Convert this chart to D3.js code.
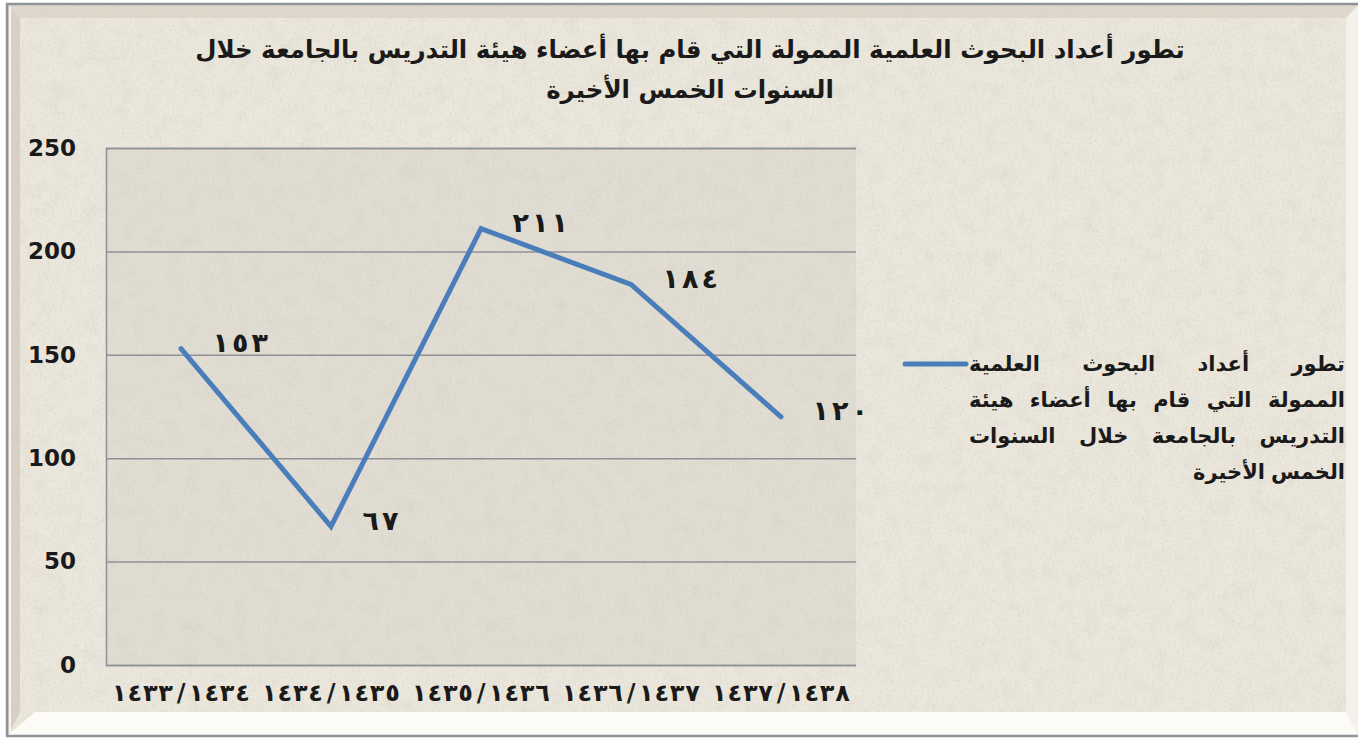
<!DOCTYPE html>
<html lang="ar">
<head>
<meta charset="utf-8">
<script src="https://cdn.jsdelivr.net/npm/d3@7/dist/d3.min.js"></script>
<style>
  html, body { margin: 0; padding: 0; background: #ffffff; }
  svg { display: block; }
  text { font-family: "DejaVu Sans", sans-serif; font-weight: bold; fill: #1a1a1a; }
</style>
</head>
<body>
<svg id="chart" width="1358" height="738"></svg>
<script>
// Research output by academic year (Hijri)
const years = ["١٤٣٣/١٤٣٤", "١٤٣٤/١٤٣٥", "١٤٣٥/١٤٣٦", "١٤٣٦/١٤٣٧", "١٤٣٧/١٤٣٨"];
const papers = [153, 67, 211, 184, 120];
const paperLabels = ["١٥٣", "٦٧", "٢١١", "١٨٤", "١٢٠"];
const yTicks = [0, 50, 100, 150, 200, 250];
const titleLines = [
  "تطور أعداد البحوث العلمية الممولة التي قام بها أعضاء هيئة التدريس بالجامعة خلال",
  "السنوات الخمس الأخيرة"
];
const legendLines = [
  "تطور أعداد البحوث العلمية",
  "الممولة التي قام بها أعضاء هيئة",
  "التدريس بالجامعة خلال السنوات",
  "الخمس الأخيرة"
];

const svg = d3.select("#chart");
const W = 1358, H = 738;

// paper-like texture: soft blotches plus fine grain
const defs = svg.append("defs");
function paperFilter(id, freq, seed, alphaScale, alphaOffset) {
  const f = defs.append("filter").attr("id", id).attr("x", 0).attr("y", 0).attr("width", 1).attr("height", 1);
  f.append("feTurbulence").attr("type", "fractalNoise").attr("baseFrequency", freq).attr("numOctaves", 3).attr("seed", seed).attr("result", "n");
  f.append("feColorMatrix").attr("in", "n").attr("type", "matrix")
    .attr("values", `0 0 0 0 0.6  0 0 0 0 0.57  0 0 0 0 0.5  0 0 0 ${alphaScale} ${alphaOffset}`).attr("result", "spots");
  f.append("feComposite").attr("in", "spots").attr("in2", "SourceGraphic").attr("operator", "in");
}
paperFilter("blotch", 0.06, 3, -2.4, 1.3);
paperFilter("grain", 0.4, 9, -2.6, 1.4);

function texturedRect(x0, y0, w, h, fill) {
  svg.append("rect").attr("x", x0).attr("y", y0).attr("width", w).attr("height", h).attr("fill", fill);
  svg.append("rect").attr("x", x0).attr("y", y0).attr("width", w).attr("height", h).attr("fill", fill)
    .attr("filter", "url(#blotch)").attr("opacity", 0.18);
  svg.append("rect").attr("x", x0).attr("y", y0).attr("width", w).attr("height", h).attr("fill", fill)
    .attr("filter", "url(#grain)").attr("opacity", 0.3);
}

// outer frame
texturedRect(7, 3, W - 7, 733, "#ece7dc");

// bevelled edges
svg.append("polygon").attr("points", "8,5 1358,5 1346,18 20,18").attr("fill", "#d9d2c4").attr("opacity", 0.7);
svg.append("polygon").attr("points", "8,5 20,18 20,712 8,735").attr("fill", "#d2cbbd").attr("opacity", 0.8);
svg.append("line").attr("x1", 10).attr("x2", 10).attr("y1", 6).attr("y2", 733).attr("stroke", "#f6f3ec").attr("stroke-width", 2);
svg.append("polygon").attr("points", "1358,5 1346,18 1346,712 1358,735").attr("fill", "#f4f1ea");
svg.append("polygon").attr("points", "8,735 35,712 1346,712 1358,735").attr("fill", "#fcfbf8");
svg.append("line").attr("x1", 6).attr("x2", W).attr("y1", 4).attr("y2", 4).attr("stroke", "#8f9298").attr("stroke-width", 2.5);
svg.append("line").attr("x1", 7).attr("x2", 7).attr("y1", 3).attr("y2", 736).attr("stroke", "#8f9298").attr("stroke-width", 2.5);
svg.append("line").attr("x1", 6).attr("x2", W).attr("y1", 736).attr("y2", 736).attr("stroke", "#8f9298").attr("stroke-width", 2.5);

// plot area
const plot = { left: 106, right: 856, top: 148, bottom: 665 };
const x = d3.scaleBand().domain(years).range([plot.left, plot.right]);
const y = d3.scaleLinear().domain([0, 250]).range([plot.bottom, plot.top]);

texturedRect(plot.left, plot.top, plot.right - plot.left, plot.bottom - plot.top, "#e2ddd3");

// gridlines and value axis
const yAxis = d3.axisLeft(y).tickValues(yTicks).tickSize(-(plot.right - plot.left)).tickFormat(d => d);
const gy = svg.append("g").attr("transform", `translate(${plot.left},0)`).call(yAxis);
gy.select(".domain").attr("stroke", "#8c9097").attr("stroke-width", 1.5);
gy.selectAll(".tick line").attr("stroke", "#8c9097").attr("stroke-width", 1.5);
gy.selectAll(".tick text").attr("x", -30).attr("font-size", 23).attr("font-family", "DejaVu Sans")
  .attr("font-weight", "bold").attr("fill", "#1a1a1a");

// writes a string one glyph at a time on an even pitch (wide digit spacing)
function spaced(g, str, x0, yy, step, size, anchor) {
  const chars = Array.from(str);
  const n = chars.length;
  const start = anchor === "middle" ? x0 - (n - 1) * step / 2 : x0 + step / 2;
  const t = g.append("g").attr("class", "spaced");
  chars.forEach((c, k) => {
    t.append("text").attr("x", start + k * step).attr("y", yy)
      .attr("text-anchor", "middle").attr("dominant-baseline", "middle")
      .attr("font-size", size).attr("direction", "ltr").text(c);
  });
  return t;
}

// category axis
const xAxis = d3.axisBottom(x).tickSize(0).tickFormat("");
const gx = svg.append("g").attr("transform", `translate(0,${plot.bottom})`).call(xAxis);
gx.select(".domain").remove();
gx.selectAll(".tick").each(function (d) {
  spaced(d3.select(this), d, 0, 29, 15.4, 24, "middle");
});

// series line
const cx = d => x(d) + x.bandwidth() / 2;
const line = d3.line().x((d, i) => cx(years[i])).y(d => y(d));
svg.append("path").datum(papers).attr("d", line)
  .attr("fill", "none").attr("stroke", "#4a7ebb").attr("stroke-width", 5)
  .attr("stroke-linejoin", "miter").attr("stroke-linecap", "round");

// value labels
const labels = svg.append("g");
papers.forEach((d, i) => {
  spaced(labels, paperLabels[i], cx(years[i]) + 30, y(d) - 4, 19.5, 27, "start");
});

// title
const title = svg.append("g");
titleLines.forEach((t, i) => {
  title.append("text").attr("x", 690).attr("y", 58 + i * 40).attr("text-anchor", "middle")
    .attr("direction", "rtl").attr("font-size", 24).text(t);
});
const t0 = title.select("text").node();
const scaleT = 990 / t0.getComputedTextLength();
title.selectAll("text").attr("font-size", 24 * scaleT);

// legend
svg.append("line").attr("x1", 905).attr("x2", 966).attr("y1", 364).attr("y2", 364)
  .attr("stroke", "#4a7ebb").attr("stroke-width", 5).attr("stroke-linecap", "round");
const legRight = 1345, legLeft = 969;
legendLines.forEach((ln, i) => {
  const yy = 371 + i * 36;
  const words = ln.split(" ");
  const g = svg.append("g");
  const nodes = words.map(w => g.append("text").attr("y", yy).attr("font-size", 21)
    .attr("direction", "rtl").attr("text-anchor", "end").text(w));
  const widths = nodes.map(n => n.node().getComputedTextLength());
  const total = d3.sum(widths);
  const last = i === legendLines.length - 1;
  const gap = last ? 6 : (legRight - legLeft - total) / (words.length - 1);
  let pos = legRight;
  nodes.forEach((n, k) => { n.attr("x", pos).attr("text-anchor", "start"); pos -= widths[k] + gap; });
});
</script>
</body>
</html>
